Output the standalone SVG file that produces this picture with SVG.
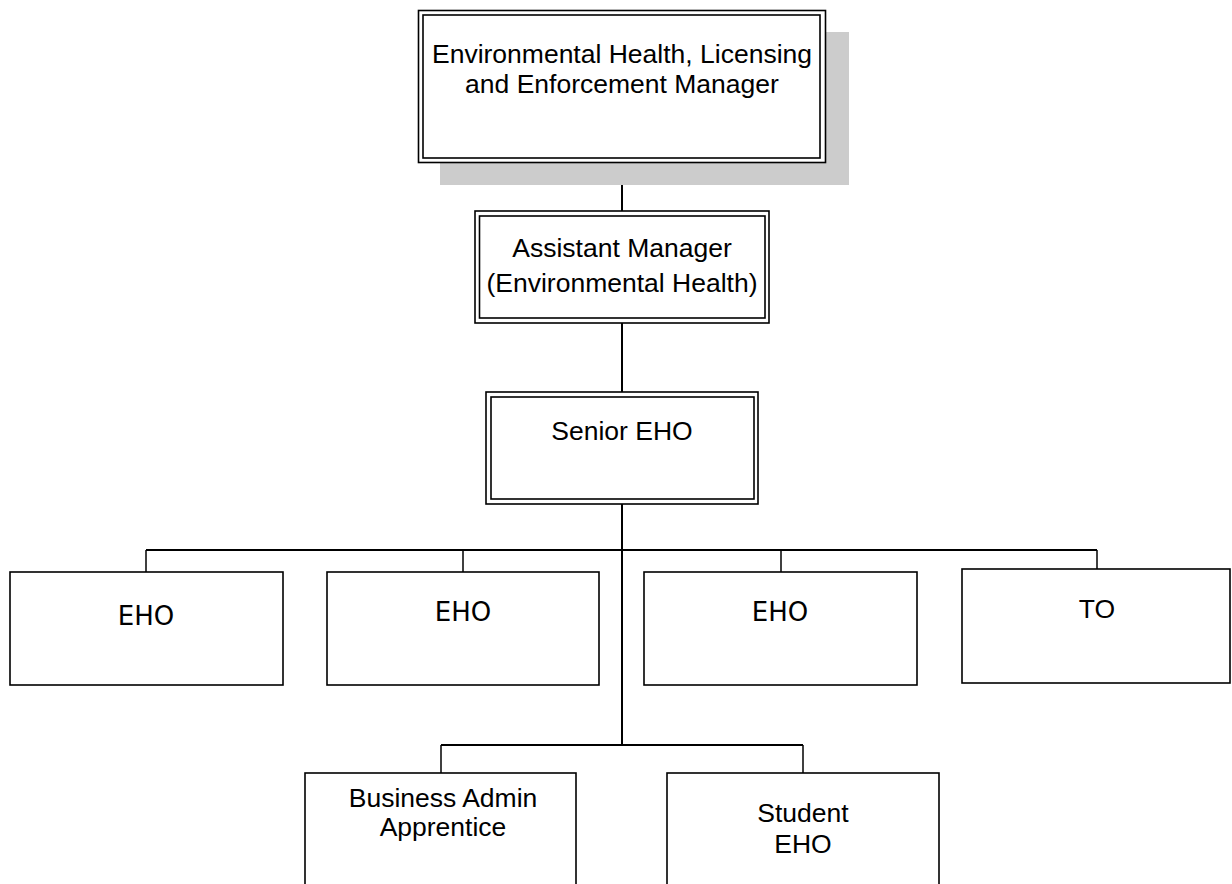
<svg xmlns="http://www.w3.org/2000/svg" width="1232" height="884" viewBox="0 0 1232 884">
  <style>
    .box { fill: #ffffff; stroke: #000000; stroke-width: 1.6; }
    .inner { fill: none; stroke: #000000; stroke-width: 1.6; }
    .shadow { fill: #cccccc; stroke: none; }
    .label { font-family: "Liberation Sans", Arial, sans-serif; font-size: 26.5px; fill: #000000; text-anchor: middle; }
    .label-alt { font-family: "DejaVu Sans", Verdana, sans-serif; font-size: 26px; fill: #000000; text-anchor: middle; }
    .trunk { stroke: #000000; stroke-width: 2; fill: none; }
    .stub { stroke: #000000; stroke-width: 1.5; fill: none; }
  </style>

  <!-- connectors -->
  <g id="connectors">
    <line class="trunk" x1="622" y1="163" x2="622" y2="211"/>
    <line class="trunk" x1="622" y1="323" x2="622" y2="392"/>
    <line class="trunk" x1="622" y1="504" x2="622" y2="745"/>
    <line class="trunk" x1="146" y1="550" x2="1097" y2="550"/>
    <line class="stub" x1="146" y1="550" x2="146" y2="572"/>
    <line class="stub" x1="463" y1="550" x2="463" y2="572"/>
    <line class="stub" x1="781" y1="550" x2="781" y2="572"/>
    <line class="stub" x1="1097" y1="550" x2="1097" y2="569"/>
    <line class="trunk" x1="441" y1="745" x2="803" y2="745"/>
    <line class="stub" x1="441" y1="745" x2="441" y2="773"/>
    <line class="stub" x1="803" y1="745" x2="803" y2="773"/>
  </g>

  <!-- manager with drop shadow -->
  <g id="manager">
    <rect class="shadow" x="440" y="32" width="409" height="153"/>
    <rect class="box" x="418.5" y="10.5" width="407" height="152"/>
    <rect class="inner" x="423" y="15" width="397" height="143"/>
    <text class="label" x="622" y="63">Environmental Health, Licensing</text>
    <text class="label" x="622" y="93">and Enforcement Manager</text>
  </g>

  <g id="assistant-manager">
    <rect class="box" x="475" y="211" width="294" height="112"/>
    <rect class="inner" x="479.5" y="216" width="285.5" height="102"/>
    <text class="label" x="622" y="257">Assistant Manager</text>
    <text class="label" x="622" y="292">(Environmental Health)</text>
  </g>

  <g id="senior-eho">
    <rect class="box" x="486" y="392" width="272" height="112"/>
    <rect class="inner" x="491" y="397" width="263" height="102"/>
    <text class="label" x="622" y="440">Senior EHO</text>
  </g>

  <g id="eho-1">
    <rect class="box" x="10" y="572" width="273" height="113"/>
    <text class="label-alt" x="146" y="625">EHO</text>
  </g>

  <g id="eho-2">
    <rect class="box" x="327" y="572" width="272" height="113"/>
    <text class="label-alt" x="463" y="621">EHO</text>
  </g>

  <g id="eho-3">
    <rect class="box" x="644" y="572" width="273" height="113"/>
    <text class="label-alt" x="780" y="621">EHO</text>
  </g>

  <g id="to">
    <rect class="box" x="962" y="569" width="268" height="114"/>
    <text class="label" x="1097" y="618">TO</text>
  </g>

  <g id="business-admin-apprentice">
    <rect class="box" x="305" y="773" width="271" height="120"/>
    <text class="label" x="443" y="807">Business Admin</text>
    <text class="label" x="443" y="836">Apprentice</text>
  </g>

  <g id="student-eho">
    <rect class="box" x="667" y="773" width="272" height="120"/>
    <text class="label" x="803" y="822">Student</text>
    <text class="label" x="803" y="853">EHO</text>
  </g>
</svg>
